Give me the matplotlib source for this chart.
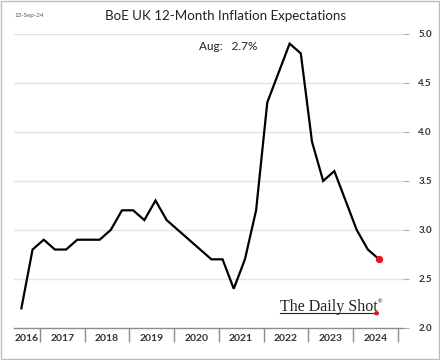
import numpy as np
import matplotlib
matplotlib.use('Agg')
import matplotlib.pyplot as plt
from matplotlib.patches import Rectangle

# quarterly survey points (Feb / May / Aug / Nov)
dates = ['2016-08', '2016-11',
         '2017-02', '2017-05', '2017-08', '2017-11',
         '2018-02', '2018-05', '2018-08', '2018-11',
         '2019-02', '2019-05', '2019-08', '2019-11',
         '2020-02', '2020-05', '2020-08', '2020-11',
         '2021-02', '2021-05', '2021-08', '2021-11',
         '2022-02', '2022-05', '2022-08', '2022-11',
         '2023-02', '2023-05', '2023-08', '2023-11',
         '2024-02', '2024-05', '2024-08']
expect = [2.2, 2.8,
          2.9, 2.8, 2.8, 2.9,
          2.9, 2.9, 3.0, 3.2,
          3.2, 3.1, 3.3, 3.1,
          3.0, 2.9, 2.8, 2.7,
          2.7, 2.4, 2.7, 3.2,
          4.3, 4.6, 4.9, 4.8,
          3.9, 3.5, 3.6, 3.3,
          3.0, 2.8, 2.7]
years = list(range(2016, 2025))
yticks = [2.0, 2.5, 3.0, 3.5, 4.0, 4.5, 5.0]

x = np.array([int(d[:4]) + (int(d[5:]) - 1) / 12 for d in dates])
y = np.array(expect)

plt.rcParams['font.family'] = ['Lato', 'DejaVu Sans']

fig = plt.figure(figsize=(4.4, 3.6), dpi=100)
ax = fig.add_axes([0.032, 0.089, 0.884, 0.817])

x0, x1 = 2016.42, 2025.12
ax.set_xlim(x0, x1)
ax.set_ylim(2.0, 5.0)

ax.plot(x, y, color='black', lw=1.6, solid_joinstyle='miter', zorder=3)
ax.scatter(x[-1], y[-1], s=18, color='#e8141b', zorder=4)

# grid + axes styling
for v in yticks[1:]:
    ax.axhline(v, color='#e3e3e3', lw=1, zorder=1)
for s in ['top', 'left', 'right']:
    ax.spines[s].set_visible(False)
ax.spines['bottom'].set_color('#8c8c8c')
ax.spines['bottom'].set_linewidth(1)

ax.yaxis.tick_right()
ax.set_yticks(yticks)
ax.set_yticklabels([f'{v:.1f}' for v in yticks], fontsize=7, fontweight='bold')
ax.tick_params(axis='y', length=4, color='#b0b0b0', pad=7, labelcolor='#333333')

# year separators as major ticks, labels as minor ticks
ax.set_xticks(range(2017, 2026))
ax.set_xticklabels([])
ax.tick_params(axis='x', which='major', length=10, width=1, color='#8c8c8c', direction='out')
centers = [(x0 + 2017) / 2] + [yr + 0.5 for yr in years[1:]]
ax.set_xticks(centers, minor=True)
ax.set_xticklabels([str(yr) for yr in years], minor=True, fontsize=7.5, fontweight='bold')
ax.tick_params(axis='x', which='minor', length=0, pad=4, labelcolor='#333333')

# texts
fig.text(0.512, 0.955, 'BoE UK 12-Month Inflation Expectations', ha='center', va='center',
         fontsize=9.6, color='#222222')
fig.text(0.033, 0.957, '13-Sep-24', ha='left', va='center', fontsize=4.5, color='#555555')
ax.text(2020.55, 4.87, f'Aug:   {expect[-1]}%', ha='left', va='center', fontsize=8.5,
        color='#222222', bbox=dict(facecolor='white', edgecolor='none', pad=4), zorder=5)

# logo
logo = fig.text(0.636, 0.148, 'The Daily Shot', ha='left', va='center', fontsize=11.5,
                family='Liberation Serif', color='#222222')
fig.canvas.draw()
bb = logo.get_window_extent().transformed(fig.transFigure.inverted())
ux = [bb.x0, bb.x1 - 0.002]
uy = bb.y0 + 0.004
fig.lines.append(plt.Line2D(ux, [uy, uy], transform=fig.transFigure, color='#222222', lw=0.8))
fig.text(bb.x1 + 0.001, bb.y1 - 0.008, '®', ha='left', va='center', fontsize=4, color='#222222')
fig.patches.append(plt.Circle((bb.x1 - 0.002, uy), 0.004, transform=fig.transFigure,
                              color='#e8141b', zorder=5))

# frame around the picture
fig.patches.append(Rectangle((0.002, 0.002), 0.996, 0.996, transform=fig.transFigure,
                             fill=False, edgecolor='#bdbdbd', lw=1))

fig.savefig('out.png', dpi=100)
